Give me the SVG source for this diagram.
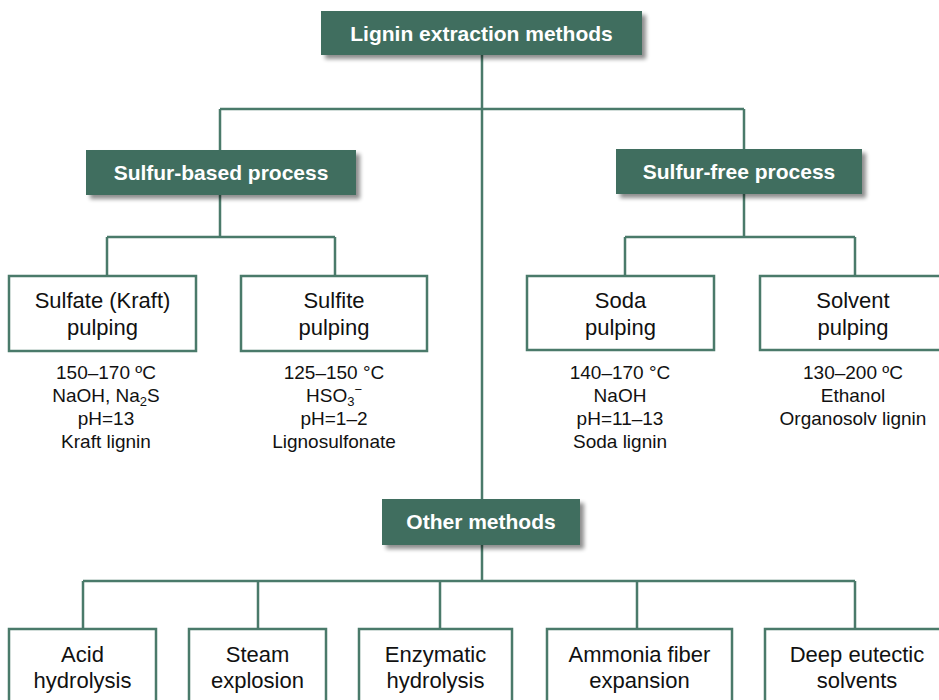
<svg xmlns="http://www.w3.org/2000/svg" width="939" height="700" viewBox="0 0 939 700">
<defs>
<filter id="sh" x="-10%" y="-30%" width="130%" height="180%">
<feGaussianBlur in="SourceAlpha" stdDeviation="2"/>
<feOffset dx="4" dy="4" result="b"/>
<feComponentTransfer><feFuncA type="linear" slope="0.45"/></feComponentTransfer>
<feMerge><feMergeNode/><feMergeNode in="SourceGraphic"/></feMerge>
</filter>
</defs>
<style>
.hd{fill:#416e5f;filter:url(#sh)}
.ht{font-family:"Liberation Sans",Arial,sans-serif;font-weight:bold;font-size:21px;fill:#fff;text-anchor:middle}
.bx{fill:#fff;stroke:#4a7a6a;stroke-width:2.5}
.bt{font-family:"Liberation Sans",Arial,sans-serif;font-size:22px;fill:#111;text-anchor:middle}
.st{font-family:"Liberation Sans",Arial,sans-serif;font-size:19px;fill:#111;text-anchor:middle}
.ln{fill:none;stroke:#4a7a6a;stroke-width:2.5}
</style>
<rect width="939" height="700" fill="#fff"/>
<g id="connectors" class="ln">
<path d="M482 55V499M220 109H744M220 109V150M744 109V149"/>
<path d="M220 195V237M107 237H335M107 237V276M335 237V276"/>
<path d="M744 194V237M625 237H855M625 237V276M855 237V276"/>
<path d="M482 545V581M83 581H855M83 581V629M258 581V629M440 581V629M637 581V629M855 581V629"/>
</g>
<g id="n-root"><rect class="hd" x="321" y="11" width="321" height="44"/><text class="ht" x="481.5" y="41">Lignin extraction methods</text></g>
<g id="n-sulfur-based"><rect class="hd" x="86" y="150" width="270" height="45"/><text class="ht" x="221" y="180">Sulfur-based process</text></g>
<g id="n-sulfur-free"><rect class="hd" x="616" y="149" width="246" height="45"/><text class="ht" x="739" y="179">Sulfur-free process</text></g>
<g id="n-other"><rect class="hd" x="382" y="499" width="198" height="46"/><text class="ht" x="481" y="529">Other methods</text></g>
<g id="n-kraft"><rect class="bx" x="9" y="276" width="187" height="75"/><text class="bt" x="102.5" y="308">Sulfate (Kraft)</text><text class="bt" x="102.5" y="335">pulping</text>
<text class="st" x="106" y="379">150–170 ºC</text><text class="st" x="106" y="402">NaOH, Na<tspan font-size="13" dy="4">2</tspan><tspan dy="-4">S</tspan></text><text class="st" x="106" y="425">pH=13</text><text class="st" x="106" y="448">Kraft lignin</text></g>
<g id="n-sulfite"><rect class="bx" x="241" y="276" width="186" height="75"/><text class="bt" x="334" y="308">Sulfite</text><text class="bt" x="334" y="335">pulping</text>
<text class="st" x="334" y="379">125–150 °C</text><text class="st" x="334" y="402">HSO<tspan font-size="13" dy="4">3</tspan><tspan font-size="13" dy="-12">−</tspan></text><text class="st" x="334" y="425">pH=1–2</text><text class="st" x="334" y="448">Lignosulfonate</text></g>
<g id="n-soda"><rect class="bx" x="527" y="276" width="187" height="74"/><text class="bt" x="620.5" y="308">Soda</text><text class="bt" x="620.5" y="335">pulping</text>
<text class="st" x="620" y="379">140–170 °C</text><text class="st" x="620" y="402">NaOH</text><text class="st" x="620" y="425">pH=11–13</text><text class="st" x="620" y="448">Soda lignin</text></g>
<g id="n-solvent"><rect class="bx" x="760" y="276" width="190" height="74"/><text class="bt" x="853" y="308">Solvent</text><text class="bt" x="853" y="335">pulping</text>
<text class="st" x="853" y="379">130–200 ºC</text><text class="st" x="853" y="402">Ethanol</text><text class="st" x="853" y="425">Organosolv lignin</text></g>
<g id="n-acid"><rect class="bx" x="9" y="629" width="147" height="80"/><text class="bt" x="82.5" y="662">Acid</text><text class="bt" x="82.5" y="688">hydrolysis</text></g>
<g id="n-steam"><rect class="bx" x="189" y="629" width="137" height="80"/><text class="bt" x="257.5" y="662">Steam</text><text class="bt" x="257.5" y="688">explosion</text></g>
<g id="n-enzymatic"><rect class="bx" x="359" y="629" width="153" height="80"/><text class="bt" x="435.5" y="662">Enzymatic</text><text class="bt" x="435.5" y="688">hydrolysis</text></g>
<g id="n-ammonia"><rect class="bx" x="547" y="629" width="185" height="80"/><text class="bt" x="639.5" y="662">Ammonia fiber</text><text class="bt" x="639.5" y="688">expansion</text></g>
<g id="n-des"><rect class="bx" x="765" y="629" width="185" height="80"/><text class="bt" x="857" y="662">Deep eutectic</text><text class="bt" x="857" y="688">solvents</text></g>
</svg>
